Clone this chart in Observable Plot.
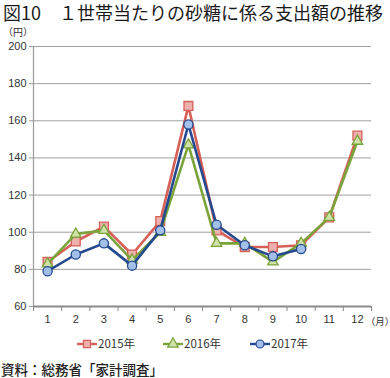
<!DOCTYPE html>
<html><head><meta charset="utf-8">
<script src="https://cdn.jsdelivr.net/npm/d3@7"></script>
<script src="https://cdn.jsdelivr.net/npm/@observablehq/plot@0.6"></script>
<style>
body{margin:0;background:#fff;font-family:"Noto Sans CJK JP","Noto Sans",sans-serif;color:#222}
#wrap{position:relative;width:390px;height:378px;overflow:hidden}
#title{position:absolute;left:3px;top:1px;font-size:18px;line-height:22px;font-weight:400;white-space:nowrap;color:#1a1a1a}
#unit{position:absolute;left:3px;top:26px;font-size:10px;line-height:12px;color:#333}
#chart{position:absolute;left:0;top:24px}
#legend{position:absolute;left:0;top:333px;width:390px;height:16px}
#caption{position:absolute;left:1px;top:361px;font-size:13.5px;line-height:16px;font-weight:500;color:#222;white-space:nowrap}
</style></head>
<body><div id="wrap">
<div id="title">図10　１世帯当たりの砂糖に係る支出額の推移</div>
<div id="unit">（円）</div>
<div id="chart"></div>
<div id="legend"></div>
<div id="caption">資料：総務省「家計調査」</div>
</div>
<script>
const months = [1,2,3,4,5,6,7,8,9,10,11,12];
const yTicks = [60,80,100,120,140,160,180,200];
const seriesNames = ["2015年","2016年","2017年"];
const v2015 = [84,95,103,88,106,168,101,92,92,93,108,152];
const v2016 = [83,99,101,85,100,147,94,94,84,94,108,149];
const v2017 = [79,88,94,82,101,158,104,93,87,91,null,null];
const lineColors = ["#d65f58","#7aa33a","#24498f"];
const fillColors = ["#eeb0ad","#cfe2a8","#a3c0e8"];
const symbols = ["square","triangle","circle"];
const radii = [5,3.9,4.6];

const allValues = [v2015, v2016, v2017];
const bounds = d3.range(0.5, 13, 1);

const marks = [
  Plot.ruleY(yTicks.filter(v => v > 60), {stroke: "#a0a0a0", strokeWidth: 1}),
  Plot.ruleX([0.5], {y1: 60, y2: 200, stroke: "#9a9a9a", strokeWidth: 1.2}),
  Plot.axisY({ticks: yTicks, tickSize: 4, tickPadding: 3, fontSize: 11, label: null, stroke: "#999", fill: "#333", tickFormat: d => d}),
  Plot.ruleY([60], {stroke: "#8a8a8a", strokeWidth: 1.8}),
  Plot.axisX({ticks: bounds, tickSize: 5, tickFormat: () => "", label: null, stroke: "#8a8a8a"}),
  Plot.axisX({ticks: months, tickSize: 0, tickPadding: 9, fontSize: 11, label: null, fill: "#333", tickFormat: d => d}),
  Plot.text(["（月）"], {x: 12.5, y: 60, dy: 15, dx: 18, textAnchor: "end", fontSize: 9.5, fill: "#333", fontFamily: "'Noto Sans CJK JP', sans-serif", className: "unitx"})
];
allValues.forEach((vals, i) => {
  const data = months.map((m, j) => ({month: m, value: vals[j]})).filter(d => d.value != null);
  marks.push(Plot.line(data, {x: "month", y: "value", stroke: lineColors[i], strokeWidth: 2.6}));
  marks.push(Plot.dot(data, {x: "month", y: "value", symbol: symbols[i], r: radii[i], fill: fillColors[i], stroke: lineColors[i], strokeWidth: 1.3}));
});

const chart = Plot.plot({
  width: 390, height: 310,
  marginTop: 22, marginBottom: 28, marginLeft: 33, marginRight: 19,
  style: {fontFamily: "'Liberation Sans', Arial, sans-serif", background: "transparent", overflow: "visible"},
  x: {type: "linear", domain: [0.5, 12.5]},
  y: {domain: [60, 200]},
  marks
});
d3.select(chart).selectAll(".unitx text").style("font-feature-settings", "'halt'");
document.getElementById("chart").append(chart);

// Legend
const lg = d3.select("#legend").append("svg").attr("width", 390).attr("height", 16);
const starts = [77, 163, 250];
seriesNames.forEach((name, i) => {
  const g = lg.append("g").attr("transform", `translate(${starts[i]},8)`);
  g.append("line").attr("x1", 0).attr("x2", 20).attr("stroke", lineColors[i]).attr("stroke-width", 2.4);
  const sym = d3.symbol().type([d3.symbolSquare, d3.symbolTriangle, d3.symbolCircle][i]).size(50);
  g.append("path").attr("d", sym()).attr("transform", "translate(10,0)").attr("fill", fillColors[i]).attr("stroke", lineColors[i]).attr("stroke-width", 1.2);
  g.append("text").attr("x", 21).attr("y", 4).attr("font-size", 11.5).attr("fill", "#333").attr("font-family", "'Noto Sans CJK JP', sans-serif").text(name);
});
</script>
</body></html>
